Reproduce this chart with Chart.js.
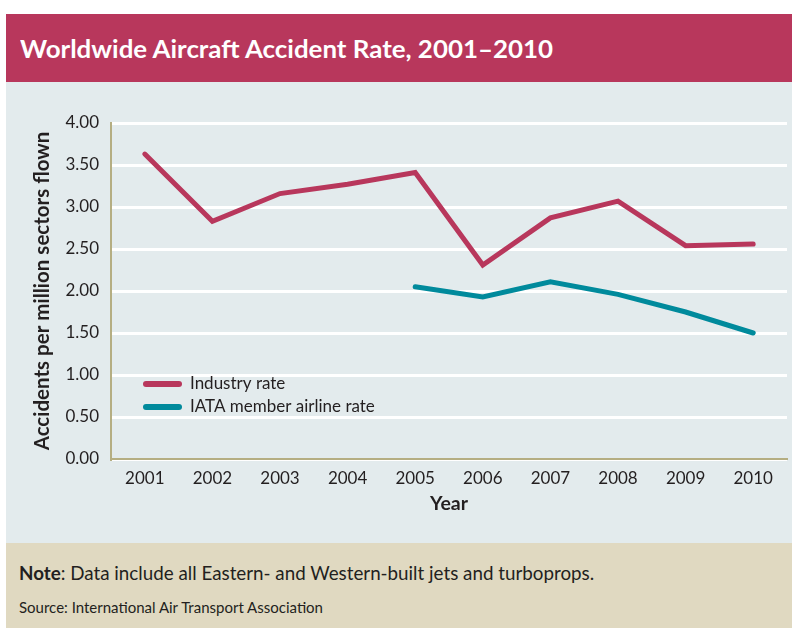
<!DOCTYPE html>
<html><head><meta charset="utf-8">
<script src="https://cdn.jsdelivr.net/npm/chart.js@4"></script>
<style>
html,body{margin:0;padding:0;background:#fff;width:792px;height:628px;overflow:hidden;}
#title{position:absolute;left:6px;top:14px;width:786px;height:68px;background:#B8375C;}
#title span{position:absolute;left:14px;top:19px;font-family:Lato,sans-serif;font-weight:bold;font-size:25px;line-height:30px;color:#fff;white-space:nowrap;transform-origin:0 50%;}
#chartbox{position:absolute;left:6px;top:82px;width:786px;height:461px;background:#E3EBED;}
#note{position:absolute;left:6px;top:543px;width:786px;height:85px;background:#E0D9C1;font-family:Lato,sans-serif;color:#231F20;}
#note .n{position:absolute;left:13px;top:18px;font-size:18.8px;line-height:24px;white-space:nowrap;}
#note .s{position:absolute;left:13px;top:55px;font-size:15px;line-height:18px;white-space:nowrap;}
</style></head>
<body>
<div id="title"><span id="tt">Worldwide Aircraft Accident Rate, 2001–2010</span></div>
<div id="chartbox"><canvas id="c" width="786" height="461"></canvas></div>
<div id="note"><div class="n"><b>Note</b>: Data include all Eastern- and Western-built jets and turboprops.</div><div class="s">Source: International Air Transport Association</div></div>
<script>
const years = ["2001","2002","2003","2004","2005","2006","2007","2008","2009","2010"];
const industryRate = [3.63, 2.83, 3.16, 3.27, 3.41, 2.31, 2.87, 3.07, 2.54, 2.56];
const iataRate = [null, null, null, null, 2.05, 1.93, 2.11, 1.96, 1.75, 1.50];
const yTicks = [0, 0.5, 1, 1.5, 2, 2.5, 3, 3.5, 4];
const seriesNames = ["Industry rate", "IATA member airline rate"];
const seriesColors = ["#B8375C", "#008A9C"];

// fit title width to the reference's text span
(function(){ const t = document.getElementById('tt'); const w = t.getBoundingClientRect().width; t.style.transform = 'scaleX(' + (533 / w) + ')'; })();

const legendPlugin = {
  id: 'insideLegend',
  afterDraw(chart) {
    const ctx = chart.ctx;
    ctx.save();
    chart.data.datasets.forEach((ds, i) => {
      const y = 302 + i * 23;
      ctx.strokeStyle = ds.borderColor;
      ctx.lineWidth = 6;
      ctx.lineCap = 'round';
      ctx.beginPath();
      ctx.moveTo(140, y);
      ctx.lineTo(173, y);
      ctx.stroke();
      ctx.fillStyle = '#231F20';
      ctx.font = '17px Lato';
      ctx.textBaseline = 'middle';
      ctx.fillText(ds.label, 184, y);
    });
    ctx.restore();
  }
};

new Chart(document.getElementById('c'), {
  type: 'line',
  data: {
    labels: years,
    datasets: [
      {label: seriesNames[0], data: industryRate, borderColor: seriesColors[0], borderWidth: 5, pointRadius: 0, borderCapStyle: 'round', borderJoinStyle: 'miter', tension: 0, spanGaps: false},
      {label: seriesNames[1], data: iataRate, borderColor: seriesColors[1], borderWidth: 5, pointRadius: 0, borderCapStyle: 'round', borderJoinStyle: 'miter', tension: 0, spanGaps: false}
    ]
  },
  options: {
    responsive: false,
    animation: false,
    events: [],
    layout: {padding: {top: 41, right: 5, bottom: 0, left: 0}},
    plugins: {legend: {display: false}, tooltip: {enabled: false}},
    scales: {
      x: {
        offset: true,
        grid: {display: false, drawTicks: false},
        border: {display: true, color: '#B5AE82', width: 2},
        ticks: {color: '#231F20', font: {family: 'Lato', size: 17}, padding: 9},
        title: {display: true, text: 'Year', color: '#231F20', font: {family: 'Lato', size: 19.5, weight: 'bold'}, padding: {top: 2, bottom: 28}},
        afterFit(s) { s.height = 84; }
      },
      y: {
        min: 0, max: 4,
        afterBuildTicks(s) { s.ticks = yTicks.map(v => ({value: v})); },
        grid: {color: '#FFFFFF', lineWidth: 3, drawTicks: false},
        border: {display: true, color: '#B5AE82', width: 2},
        ticks: {color: '#231F20', font: {family: 'Lato', size: 17}, padding: 12, callback: v => Number(v).toFixed(2)},
        title: {display: true, text: 'Accidents per million sectors flown', color: '#231F20', font: {family: 'Lato', size: 20.5, weight: 'bold'}, padding: {top: 24, bottom: 0}},
        afterFit(s) { s.width = 105; }
      }
    }
  },
  plugins: [legendPlugin]
});
</script>
</body></html>
